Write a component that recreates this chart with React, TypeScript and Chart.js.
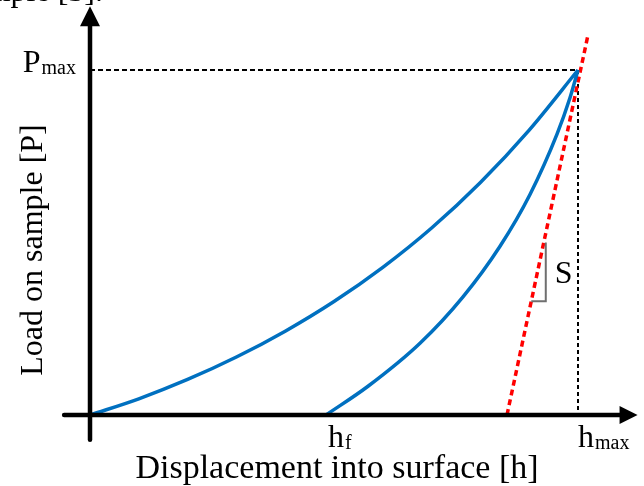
import React, { useEffect, useRef } from "react";
import { Chart, registerables } from "chart.js";

Chart.register(...registerables);

// Loading curve (displacement h, load P), normalised to h_max = 1, P_max = 1
const loadingH = [0, 0.1, 0.2, 0.3, 0.4, 0.5, 0.6, 0.7, 0.8, 0.9, 1];
const loadingP = [0, 0.047, 0.103, 0.168, 0.243, 0.329, 0.428, 0.542, 0.674, 0.826, 1];

// Unloading curve
const unloadingH = [0.4836, 0.5697, 0.6762, 0.7643, 0.8402, 0.9016, 0.957, 0.9836, 1];
const unloadingP = [0, 0.0833, 0.208, 0.3425, 0.4893, 0.6393, 0.8141, 0.9197, 1];

// Tangent (stiffness S) line
const tangentH = [0.8545, 1.0205];
const tangentP = [0, 1.1014];

// Axis extents (data units)
const xAxisFrom = -0.053;
const xAxisTo = 1.122;
const yAxisFrom = -0.072;
const yAxisTo = 1.185;

// S bracket load levels
const sBracketP = [0.5, 0.33];

// Labels
const xTitle = "Displacement into surface [h]";
const yTitle = "Load on sample [P]";
const captionTail = "sample [3].";

const hMax = loadingH[loadingH.length - 1];
const pMax = loadingP[loadingP.length - 1];
const hF = unloadingH[0];

const toPts = (xs: number[], ys: number[]) => xs.map((x, i) => ({ x, y: ys[i] }));

const tangentAt = (p: number) =>
  tangentH[0] + ((p - tangentP[0]) / (tangentP[1] - tangentP[0])) * (tangentH[1] - tangentH[0]);

const FONT = "'Liberation Serif', 'DejaVu Serif', serif";

export default function App() {
  const ref = useRef<HTMLCanvasElement>(null);

  useEffect(() => {
    const deco = {
      id: "deco",
      afterDatasetsDraw(chart: any) {
        const ctx = chart.ctx as CanvasRenderingContext2D;
        const xs = chart.scales.x;
        const ys = chart.scales.y;
        const X = (v: number) => xs.getPixelForValue(v);
        const Y = (v: number) => ys.getPixelForValue(v);
        ctx.save();

        // axes
        const x0 = X(0);
        const y0 = Y(0);
        ctx.strokeStyle = "#000";
        ctx.fillStyle = "#000";
        ctx.lineWidth = 4.5;
        ctx.lineCap = "round";
        const xTip = X(xAxisTo);
        const yTip = Y(yAxisTo);
        const xHeadLen = 18, xHeadHalf = 9;
        const yHeadLen = 20, yHeadHalf = 10;
        ctx.beginPath();
        ctx.moveTo(X(xAxisFrom), y0);
        ctx.lineTo(xTip - xHeadLen + 2, y0);
        ctx.stroke();
        ctx.beginPath();
        ctx.moveTo(x0, Y(yAxisFrom));
        ctx.lineTo(x0, yTip + yHeadLen - 2);
        ctx.stroke();
        ctx.beginPath();
        ctx.moveTo(xTip, y0);
        ctx.lineTo(xTip - xHeadLen, y0 - xHeadHalf);
        ctx.lineTo(xTip - xHeadLen, y0 + xHeadHalf);
        ctx.closePath();
        ctx.fill();
        ctx.beginPath();
        ctx.moveTo(x0, yTip);
        ctx.lineTo(x0 - yHeadHalf, yTip + yHeadLen);
        ctx.lineTo(x0 + yHeadHalf, yTip + yHeadLen);
        ctx.closePath();
        ctx.fill();

        // S bracket
        const topX = X(tangentAt(sBracketP[0]));
        const botX = X(tangentAt(sBracketP[1]));
        ctx.strokeStyle = "#6f6f6f";
        ctx.lineWidth = 2;
        ctx.lineCap = "butt";
        ctx.beginPath();
        ctx.moveTo(topX + 2, Y(sBracketP[0]));
        ctx.lineTo(topX + 2, Y(sBracketP[1]));
        ctx.lineTo(botX, Y(sBracketP[1]));
        ctx.stroke();

        // text
        ctx.fillStyle = "#000";
        ctx.textBaseline = "alphabetic";
        const big = `32px ${FONT}`;
        const small = `20px ${FONT}`;

        // P max
        ctx.font = small;
        const maxW = ctx.measureText("max").width;
        ctx.textAlign = "right";
        ctx.fillText("max", x0 - 14, Y(pMax) + 4);
        ctx.font = big;
        ctx.fillText("P", x0 - 14 - maxW - 1, Y(pMax) + 2);

        // h_f
        ctx.textAlign = "left";
        ctx.font = big;
        const hW = ctx.measureText("h").width;
        ctx.fillText("h", X(hF) + 2, y0 + 32);
        ctx.font = small;
        ctx.fillText("f", X(hF) + 2 + hW + 1, y0 + 34);

        // h_max
        ctx.font = big;
        ctx.fillText("h", X(hMax), y0 + 32);
        ctx.font = small;
        ctx.fillText("max", X(hMax) + hW + 1, y0 + 34);

        // S
        ctx.font = big;
        ctx.fillText("S", topX + 11, (Y(sBracketP[0]) + Y(sBracketP[1])) / 2 + 11);

        // axis titles
        ctx.textAlign = "center";
        ctx.font = `34px ${FONT}`;
        ctx.fillText(xTitle, 337, 478);
        ctx.font = big;
        ctx.save();
        ctx.translate(42, 250);
        ctx.rotate(-Math.PI / 2);
        ctx.fillText(yTitle, 0, 0);
        ctx.restore();

        // cut-off caption fragment at top
        ctx.textAlign = "right";
        ctx.fillText(captionTail, 103, 1);

        ctx.restore();
      },
    };

    const chart = new Chart(ref.current as HTMLCanvasElement, {
      type: "scatter",
      data: {
        datasets: [
          {
            label: "Loading",
            data: toPts(loadingH, loadingP),
            showLine: true,
            borderColor: "#0070C0",
            borderWidth: 3.5,
            pointRadius: 0,
            cubicInterpolationMode: "monotone",
            fill: false,
          },
          {
            label: "Unloading",
            data: toPts(unloadingH, unloadingP),
            showLine: true,
            borderColor: "#0070C0",
            borderWidth: 3.5,
            pointRadius: 0,
            cubicInterpolationMode: "monotone",
            fill: false,
          },
          {
            label: "Tangent",
            data: toPts(tangentH, tangentP),
            showLine: true,
            borderColor: "#FF0000",
            borderWidth: 3.5,
            borderDash: [6, 4],
            pointRadius: 0,
            fill: false,
          },
          {
            label: "Pmax guide",
            data: toPts([0, hMax], [pMax, pMax]),
            showLine: true,
            borderColor: "#000",
            borderWidth: 2,
            borderDash: [5, 3],
            pointRadius: 0,
            fill: false,
          },
          {
            label: "hmax guide",
            data: toPts([hMax, hMax], [pMax, 0]),
            showLine: true,
            borderColor: "#000",
            borderWidth: 2,
            borderDash: [4, 3],
            pointRadius: 0,
            fill: false,
          },
        ],
      },
      options: {
        animation: false,
        responsive: false,
        maintainAspectRatio: false,
        layout: { padding: 0 },
        plugins: { legend: { display: false }, tooltip: { enabled: false } },
        scales: {
          x: { type: "linear", display: false, min: -90 / 488, max: 554 / 488 },
          y: { type: "linear", display: false, min: -71 / 345, max: 415 / 345 },
        },
      },
      plugins: [deco],
    } as any);

    return () => chart.destroy();
  }, []);

  return (
    <div style={{ position: "fixed", left: 0, top: 0, width: 644, height: 486, background: "#fff" }}>
      <canvas ref={ref} width={644} height={486} style={{ display: "block" }} />
    </div>
  );
}
